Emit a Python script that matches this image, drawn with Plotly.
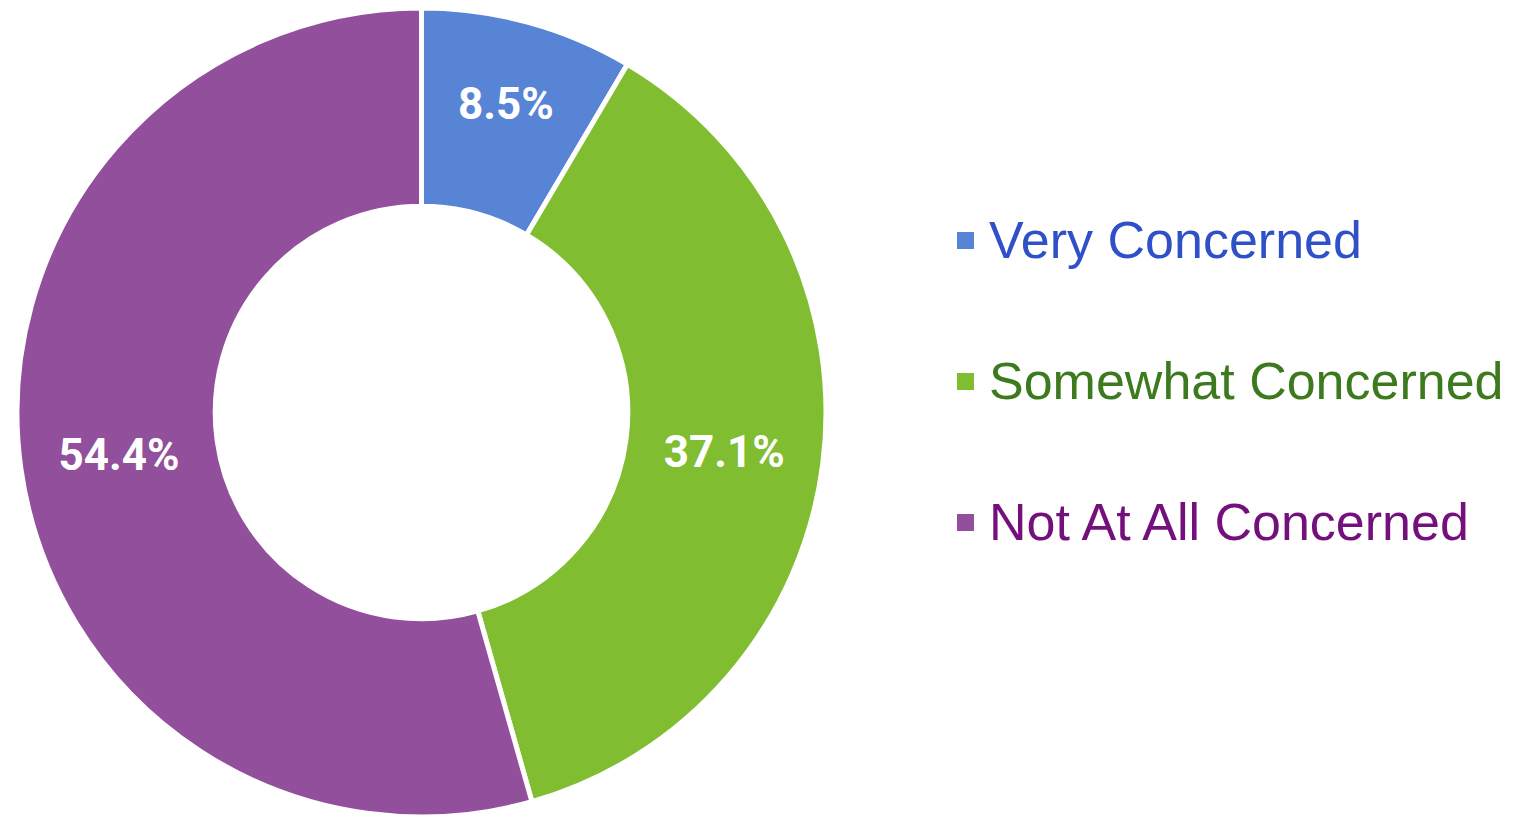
import plotly.graph_objects as go

# data
labels = ["Very Concerned", "Somewhat Concerned", "Not At All Concerned"]
values = [8.5, 37.1, 54.4]
slice_colors = ["#5884d6", "#80bd31", "#924f9c"]
legend_text_colors = ["#3050c8", "#3d7a1e", "#74107c"]

W, H = 1522, 818
OFF = 8  # page body margin pushes the plot 8px right/down


def px_x(x):
    return min(max((x - OFF) / W, 0), 1)


def px_y(y):
    return min(max(1 - (y - OFF) / H, 0), 1)


fig = go.Figure(go.Pie(
    labels=labels,
    values=values,
    hole=0.51,
    sort=False,
    direction="clockwise",
    rotation=0,
    marker=dict(colors=slice_colors, line=dict(color="white", width=5)),
    texttemplate="%{value:.1f}%",
    textposition="inside",
    insidetextorientation="horizontal",
    textfont=dict(family="Roboto", size=44, color="white", weight="bold"),
    domain=dict(x=[px_x(17), px_x(826)], y=[px_y(817), px_y(8)]),
    showlegend=False,
    hoverinfo="label+percent",
))

# hand-drawn legend so the items can be spaced out and coloured per slice
legend_y = [240, 381, 522]
for lab, sc, tc, ypx in zip(labels, slice_colors, legend_text_colors, legend_y):
    fig.add_shape(type="rect", xref="paper", yref="paper",
                  x0=px_x(957), x1=px_x(974),
                  y0=px_y(ypx - 8), y1=px_y(ypx + 9),
                  fillcolor=sc, line=dict(width=0))
    fig.add_annotation(text=lab, xref="paper", yref="paper",
                       x=px_x(987), y=px_y(ypx), xanchor="left", yanchor="middle",
                       showarrow=False,
                       font=dict(family="Liberation Sans, Arial", size=52, color=tc))

fig.update_layout(
    width=W, height=H,
    margin=dict(l=0, r=0, t=0, b=0),
    paper_bgcolor="white",
    plot_bgcolor="white",
)

fig.write_html("out.html")
